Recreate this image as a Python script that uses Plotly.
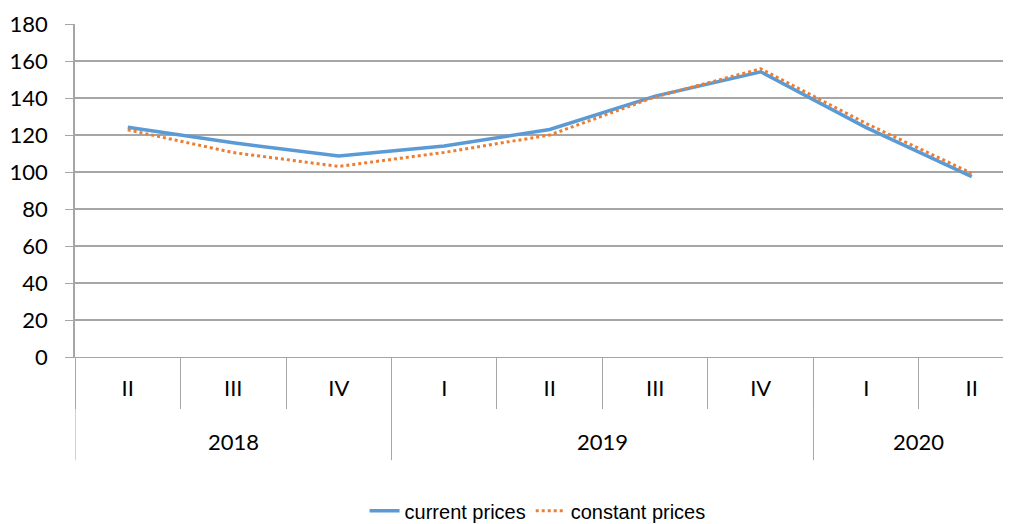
import plotly.graph_objects as go

years = ["2018", "2018", "2018", "2019", "2019", "2019", "2019", "2020", "2020"]
quarters = ["II", "III", "IV", "I", "II", "III", "IV", "I", "II"]
current_prices = [124.2, 115.8, 108.6, 114.0, 123.0, 141.0, 154.2, 124.0, 97.5]
constant_prices = [122.8, 110.5, 103.0, 110.6, 120.0, 140.6, 155.8, 126.2, 99.3]
y_ticks = [0, 20, 40, 60, 80, 100, 120, 140, 160, 180]

FONT = "Lato, Carlito, Calibri, sans-serif"
LEGEND_FONT = "Liberation Sans, Arial, sans-serif"
GRID = "#a6a6a6"
idx = list(range(len(quarters)))

fig = go.Figure()
fig.add_trace(go.Scatter(
    x=idx, y=current_prices, mode="lines", name="current prices",
    line=dict(color="#5b9bd5", width=3.5),
))
fig.add_trace(go.Scatter(
    x=idx, y=constant_prices, mode="lines", name="constant prices",
    line=dict(color="#ed7d31", width=3, dash="dot"),
))

# year groups: labels and dividers
year_names = []
for y in years:
    if y not in year_names:
        year_names.append(y)
boundaries = []
for yn in year_names:
    pos = [i for i, y in enumerate(years) if y == yn]
    fig.add_annotation(x=sum(pos) / len(pos), y=-0.255, xref="x", yref="paper",
                       text=yn, showarrow=False, font=dict(size=22, family=FONT),
                       yanchor="middle")
    boundaries.append(pos[0] - 0.5)
for b in boundaries:
    fig.add_shape(type="line", x0=b, x1=b, y0=0, y1=-0.31, xref="x", yref="paper",
                  line=dict(color=GRID, width=1))

fig.update_layout(
    width=1011, height=524,
    margin=dict(l=67, r=0, t=16, b=175, autoexpand=False),
    paper_bgcolor="white", plot_bgcolor="white",
    font=dict(family=FONT, size=22, color="black"),
    showlegend=True,
    legend=dict(orientation="h", x=0.49, xanchor="center", xref="paper",
                y=-0.462, yanchor="middle",
                font=dict(size=20, family=LEGEND_FONT)),
    xaxis=dict(
        range=[-0.5, 8.448], tickmode="array", tickvals=idx, ticktext=quarters,
        showline=True, linecolor=GRID, linewidth=1, ticks="", ticklabelstandoff=12,
        minor=dict(tickmode="array", tickvals=[i - 0.5 for i in idx] + [len(idx) - 0.5],
                   ticks="outside", ticklen=51, tickcolor=GRID, tickwidth=1, showgrid=False),
        showgrid=False, zeroline=False, tickfont=dict(size=22), automargin=False,
    ),
    yaxis=dict(
        range=[0, 180], tickvals=y_ticks, showgrid=True, gridcolor=GRID, gridwidth=1.5,
        showline=True, linecolor=GRID, linewidth=1.5,
        ticks="outside", ticklen=8, tickcolor=GRID, ticklabelstandoff=13,
        zeroline=False, tickfont=dict(size=22), automargin=False,
    ),
)

fig.write_html("out.html")
